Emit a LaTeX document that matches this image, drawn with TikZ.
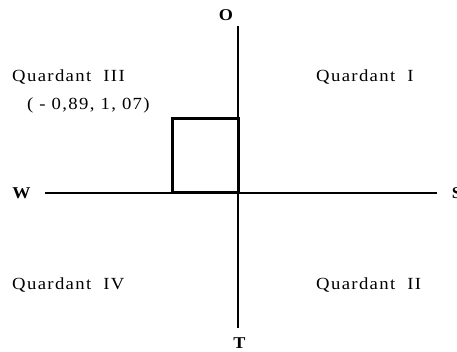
\documentclass[tikz,border=0pt]{standalone}
\usepackage{fontspec}
\setmainfont{Liberation Serif}[LetterSpace=8,FakeStretch=1.1]
\usetikzlibrary{positioning}

\begin{document}
\begin{tikzpicture}[
      x=1pt,y=-1pt,
      font=\fontsize{17}{20}\selectfont,
      axis/.style={line width=1.2pt},
      pole/.style={font=\fontsize{16.5}{20}\selectfont\bfseries,inner sep=0pt,anchor=base},
      quad/.style={inner sep=0pt,anchor=base west},
      box/.style={draw,line width=3pt,line join=miter}
    ]
      \useasboundingbox (0,0) rectangle (457,352);

      \coordinate (top) at (238,26);
      \coordinate (bot) at (238,328);
      \coordinate (west) at (45,193);
      \coordinate (east) at (437,193);
      \coordinate (origin) at (238,193);
      \coordinate (corner) at (172.3,118.3);

      \node[pole] (o) at (226,20.5) {O};
      \node[pole] (t) at (239.5,348) {T};
      \node[pole] (w) at (21.5,198.5) {W};
      \node[pole] (s) at (457,198.5) {S};

      \draw[axis] (top) -- (bot);
      \draw[axis] (west) -- (east);

      \draw[box] (corner) rectangle (origin);

      \node[quad] (q3) at (12,82) {Quardant\ \ III};
      \node[quad] (q1) at (316,82) {Quardant\ \ I};
      \node[quad] (pt) at (27,110) {( - 0,89, 1, 07)};
      \node[quad] (q4) at (12,289) {Quardant\ \ IV};
      \node[quad] (q2) at (316,289) {Quardant\ \ II};
    \end{tikzpicture}
\end{document}
